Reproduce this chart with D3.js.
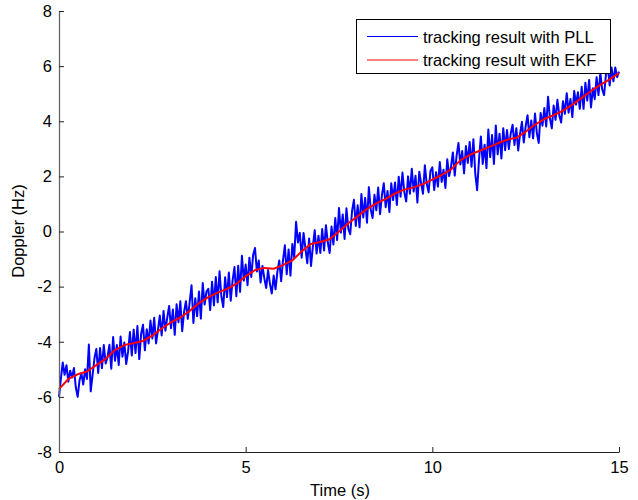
<!DOCTYPE html>
<html>
<head>
<meta charset="utf-8">
<script src="https://cdn.jsdelivr.net/npm/d3@7"></script>
<style>
  html, body { margin: 0; padding: 0; background: #fff; }
  svg { display: block; font-family: "Liberation Sans", Arial, sans-serif; }
</style>
</head>
<body>
<svg id="chart" width="638" height="500"></svg>
<script>
// Time axis sampling
const pllStep = 0.05;   // s between PLL samples
const ekfStep = 0.25;   // s between EKF samples

// Doppler tracked by the PLL (Hz), one row per second
const pllDoppler = [
  -6.00, -5.35, -4.75, -5.20, -4.85, -5.45, -5.05, -5.30, -4.95, -5.65, -6.00, -5.40, -5.15, -5.55, -5.00, -5.35, -4.10, -5.80, -5.20, -4.60,
  -4.26, -5.13, -4.23, -4.96, -4.12, -4.79, -4.55, -4.11, -4.98, -3.83, -4.69, -4.12, -4.84, -3.81, -4.54, -4.03, -4.81, -4.36, -3.65, -4.50,
  -3.56, -4.41, -3.43, -4.63, -3.72, -3.38, -4.31, -3.55, -4.06, -3.23, -3.88, -3.13, -4.06, -3.59, -3.05, -3.77, -2.88, -3.60, -3.12, -2.70,
  -3.51, -2.83, -3.75, -2.64, -3.29, -2.53, -3.62, -2.92, -2.53, -3.17, -2.56, -1.95, -3.32, -2.42, -3.07, -2.18, -3.16, -1.87, -2.65, -2.18,
  -2.08, -2.85, -1.82, -2.68, -1.65, -2.57, -1.44, -2.36, -2.74, -1.66, -2.38, -1.49, -2.51, -1.77, -1.29, -2.35, -1.24, -2.19, -0.88, -1.78,
  -1.20, -1.95, -0.95, -1.65, -0.85, -0.60, -1.45, -1.05, -1.85, -1.25, -1.70, -2.05, -1.40, -1.90, -2.25, -1.60, -2.10, -1.45, -1.05, -1.80,
  -1.05, -0.50, -1.55, -0.65, -1.60, -0.45, -0.95,  0.35, -0.40, -0.05, -0.95, -0.05, -0.60, -1.15, -0.25, -1.25, -0.55,  0.05, -0.80, -0.15,
  -0.78,  0.09, -0.69,  0.23, -0.40, -0.78,  0.18, -0.47,  0.49, -0.31,  0.85, -0.04,  0.62, -0.27,  0.84,  0.10, -0.10,  0.75,  1.15,  0.20,
   0.95,  0.15,  1.36,  0.51,  1.22,  0.32,  1.61,  0.80,  0.49,  1.33,  0.77,  1.60,  0.63,  1.32,  1.75,  0.88,  1.47,  0.71,  1.75,  1.14,
   1.78,  0.96,  1.99,  1.26,  2.14,  1.42,  1.09,  2.00,  1.37,  2.28,  1.45,  2.02,  1.05,  2.17,  1.75,  1.37,  2.40,  1.73,  1.42,  2.20,
   2.33,  1.51,  2.15,  1.63,  2.52,  1.80,  2.24,  1.58,  2.62,  2.01,  2.35,  2.87,  2.03,  2.75,  3.21,  2.43,  2.92,  2.11,  3.10,  2.49,
   3.25,  2.35,  3.35,  2.10,  1.50,  2.60,  3.45,  2.45,  3.15,  2.30,  3.70,  2.70,  3.50,  2.45,  3.85,  2.80,  3.55,  2.65,  3.75,  2.95,
   3.68,  2.99,  3.56,  3.87,  3.14,  3.75,  2.94,  3.54,  3.98,  3.23,  3.82,  4.22,  3.42,  4.03,  3.38,  4.28,  3.57,  3.21,  4.30,  3.84,
   4.48,  3.81,  4.89,  4.11,  3.74,  4.57,  4.05,  4.78,  4.22,  3.95,  4.73,  4.27,  5.02,  4.31,  4.81,  4.15,  5.10,  4.60,  5.05,  4.45,
   5.25,  4.45,  5.40,  4.75,  5.50,  4.50,  5.20,  4.80,  5.60,  4.95,  5.75,  5.15,  4.95,  5.70,  6.00,  5.30,  5.95,  5.45,  5.95,  5.60,
   5.80
];

// Doppler estimated by the EKF (Hz)
const ekfDoppler = [
  -5.72, -5.35, -5.18, -5.08, -4.85, -4.62, -4.30, -4.12,
  -4.05, -3.97, -3.78, -3.52, -3.30, -3.12, -2.88, -2.60,
  -2.38, -2.22, -2.08, -1.90, -1.62, -1.40, -1.32, -1.35,
  -1.22, -1.05, -0.72, -0.45, -0.38, -0.28,  0.00,  0.30,
   0.55,  0.82,  1.02,  1.18,  1.38,  1.52,  1.60,  1.72,
   1.88,  2.05,  2.25,  2.58,  2.78,  2.92,  3.05,  3.20,
   3.33,  3.40,  3.62,  3.88,  4.08,  4.22,  4.38,  4.60,
   4.85,  5.10,  5.32,  5.52,  5.75
];

const xTicks = [0, 5, 10, 15];
const yTicks = [-8, -6, -4, -2, 0, 2, 4, 6, 8];
const legendLabels = ["tracking result with PLL", "tracking result with EKF"];
const seriesColors = ["#0000ff", "#ff0000"];

const fontSize = 16.5;
const svg = d3.select("#chart");
const x = d3.scaleLinear().domain([0, 15]).range([59, 619]);
const y = d3.scaleLinear().domain([-8, 8]).range([452, 11]);

const line = d3.line().x(d => x(d[0])).y(d => y(d[1]));
const pllPts = pllDoppler.map((v, i) => [i * pllStep, v]);
const ekfPts = ekfDoppler.map((v, i) => [i * ekfStep, v]);

// data lines
svg.append("path").datum(pllPts).attr("d", line)
  .attr("fill", "none").attr("stroke", seriesColors[0]).attr("stroke-width", 2)
  .attr("stroke-linejoin", "round");
svg.append("path").datum(ekfPts).attr("d", line)
  .attr("fill", "none").attr("stroke", seriesColors[1]).attr("stroke-width", 2)
  .attr("stroke-linejoin", "round");

// plain hyphen for negative tick labels
const fmt = d => String(d);

// x axis with inward ticks
const xAxis = svg.append("g").attr("transform", "translate(0,452)")
  .call(d3.axisBottom(x).tickValues(xTicks).tickSize(-5).tickSizeOuter(0).tickPadding(9).tickFormat(fmt));
xAxis.select(".domain").attr("stroke", "#222");
xAxis.selectAll(".tick line").attr("stroke", "#222");
xAxis.selectAll("text").attr("font-size", fontSize).attr("fill", "#000")
  .attr("font-family", "Liberation Sans, Arial, sans-serif");

// y axis with inward ticks
const yAxis = svg.append("g").attr("transform", "translate(59,0)")
  .call(d3.axisLeft(y).tickValues(yTicks).tickSize(-5).tickSizeOuter(0).tickPadding(7).tickFormat(fmt));
yAxis.select(".domain").attr("stroke", "#666").attr("stroke-width", 1.3);
yAxis.selectAll(".tick line").attr("stroke", "#222");
yAxis.selectAll("text").attr("font-size", fontSize).attr("fill", "#000")
  .attr("font-family", "Liberation Sans, Arial, sans-serif");

// axis titles
svg.append("text").attr("x", 340).attr("y", 496).attr("text-anchor", "middle")
  .attr("font-size", fontSize).text("Time (s)");
svg.append("text").attr("transform", "translate(24,231) rotate(-90)")
  .attr("text-anchor", "middle").attr("font-size", fontSize).text("Doppler (Hz)");

// legend
const lg = svg.append("g");
lg.append("rect").attr("x", 356.5).attr("y", 19.5).attr("width", 254).attr("height", 54)
  .attr("fill", "#fff").attr("stroke", "#000").attr("stroke-width", 1);
legendLabels.forEach((lab, i) => {
  const ly = 36.5 + i * 23.5;
  lg.append("line").attr("x1", 367).attr("x2", 418).attr("y1", ly).attr("y2", ly)
    .attr("stroke", seriesColors[i]).attr("stroke-width", 1);
  lg.append("text").attr("x", 423).attr("y", ly + 6).attr("font-size", fontSize).text(lab);
});
</script>
</body>
</html>
